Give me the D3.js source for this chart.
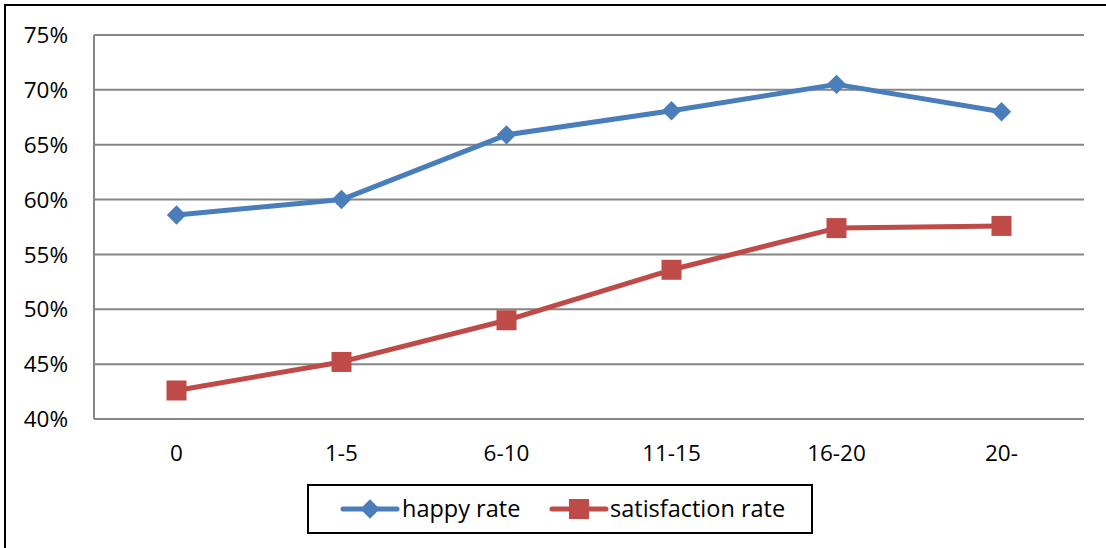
<!DOCTYPE html>
<html><head><meta charset="utf-8">
<script src="https://cdn.jsdelivr.net/npm/d3@7/dist/d3.min.js"></script>
<style>html,body{margin:0;padding:0;background:#fff;overflow:hidden}</style>
</head><body>
<svg id="c" width="1106" height="548"></svg>
<script>
const categories = ["0", "1-5", "6-10", "11-15", "16-20", "20-"];
const happyRate = [0.586, 0.600, 0.659, 0.681, 0.705, 0.680];
const satisfactionRate = [0.426, 0.452, 0.490, 0.536, 0.574, 0.576];
const yTicks = [0.40, 0.45, 0.50, 0.55, 0.60, 0.65, 0.70, 0.75];
const seriesNames = ["happy rate", "satisfaction rate"];

const svg = d3.select("#c");
const font = "'Open Sans', 'Liberation Sans', sans-serif";
const L = 94, R = 1084, T = 35, B = 419;

// outer border (cut off at right/bottom)
svg.append("rect").attr("x", 5).attr("y", 5).attr("width", 1120).attr("height", 560)
  .attr("fill", "none").attr("stroke", "#000").attr("stroke-width", 2);

const x = d3.scaleBand().domain(categories).range([L, R]);
const y = d3.scaleLinear().domain([0.40, 0.75]).range([B, T]);

// gridlines
svg.append("g").selectAll("line").data(yTicks).join("line")
  .attr("x1", L).attr("x2", R).attr("y1", d => y(d)).attr("y2", d => y(d))
  .attr("stroke", "#868686").attr("stroke-width", 2);
// left axis
svg.append("line").attr("x1", L).attr("x2", L).attr("y1", T).attr("y2", B)
  .attr("stroke", "#868686").attr("stroke-width", 2);

// y labels
svg.append("g").selectAll("text").data(yTicks).join("text")
  .attr("x", 68).attr("y", d => y(d)).attr("dy", "0.36em")
  .attr("text-anchor", "end").attr("font-family", font).attr("font-size", 22.5)
  .attr("fill", "#000").text(d => d3.format(".0%")(d));

// x labels
svg.append("g").selectAll("text").data(categories).join("text")
  .attr("x", d => x(d) + x.bandwidth() / 2).attr("y", 461)
  .attr("text-anchor", "middle").attr("font-family", font).attr("font-size", 22.5)
  .attr("fill", "#000").text(d => d);

const blue = "#4a7ebb", red = "#be4b48";
const line = d3.line().x((d, i) => x(categories[i]) + x.bandwidth() / 2).y(d => y(d));

svg.append("path").datum(happyRate).attr("d", line).attr("fill", "none")
  .attr("stroke", blue).attr("stroke-width", 5).attr("stroke-linejoin", "round");
svg.append("path").datum(satisfactionRate).attr("d", line).attr("fill", "none")
  .attr("stroke", red).attr("stroke-width", 5).attr("stroke-linejoin", "round");

const diamond = d3.symbol().type(d3.symbolDiamond2).size(240);
const square = d3.symbol().type(d3.symbolSquare).size(400);

svg.append("g").selectAll("path").data(happyRate).join("path")
  .attr("transform", (d, i) => `translate(${x(categories[i]) + x.bandwidth() / 2},${y(d)})`)
  .attr("d", diamond).attr("fill", blue);
svg.append("g").selectAll("path").data(satisfactionRate).join("path")
  .attr("transform", (d, i) => `translate(${x(categories[i]) + x.bandwidth() / 2},${y(d)})`)
  .attr("d", square).attr("fill", red);

// legend
const lg = svg.append("g");
lg.append("rect").attr("x", 308).attr("y", 485).attr("width", 504).attr("height", 48)
  .attr("fill", "none").attr("stroke", "#000").attr("stroke-width", 2);
const items = [
  {name: seriesNames[0], color: blue, sym: diamond, x0: 343, tx: 402},
  {name: seriesNames[1], color: red, sym: square, x0: 552, tx: 610}
];
items.forEach(it => {
  lg.append("line").attr("x1", it.x0).attr("x2", it.x0 + 54).attr("y1", 509).attr("y2", 509)
    .attr("stroke", it.color).attr("stroke-width", 5).attr("stroke-linecap", "round");
  lg.append("path").attr("transform", `translate(${it.x0 + 27},509)`).attr("d", it.sym).attr("fill", it.color);
  lg.append("text").attr("x", it.tx).attr("y", 509).attr("dy", "0.36em")
    .attr("font-family", font).attr("font-size", 23.5).attr("fill", "#000").text(it.name);
});
</script>
</body></html>
